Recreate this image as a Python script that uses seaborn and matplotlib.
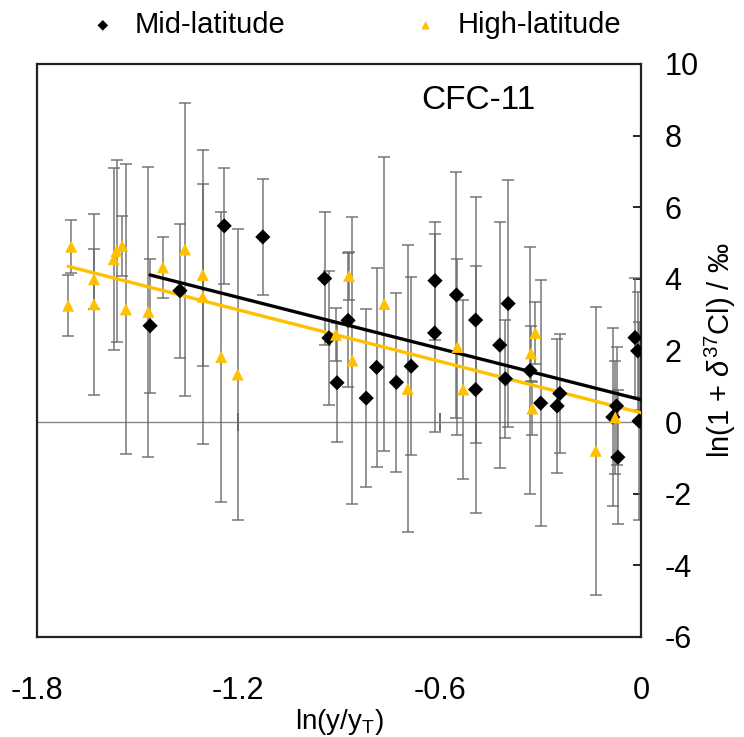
import numpy as np
import seaborn as sns
import matplotlib.pyplot as plt

# mid-latitude samples: x = ln(y/yT), y = ln(1 + d37Cl) in permil, err = 1 sigma
mid_x = [-1.463, -1.374, -1.242, -1.127, -0.943, -0.930, -0.906, -0.873, -0.819, -0.788,
         -0.729, -0.685, -0.614, -0.615, -0.550, -0.493, -0.493, -0.421, -0.404, -0.396,
         -0.331, -0.299, -0.250, -0.242, -0.084, -0.073, -0.069, -0.018, -0.010, -0.006]
mid_y = [2.69, 3.67, 5.48, 5.17, 4.01, 2.35, 1.10, 2.84, 0.67, 1.53,
         1.11, 1.56, 3.95, 2.49, 3.55, 2.85, 0.91, 2.15, 1.21, 3.31,
         1.44, 0.53, 0.45, 0.80, 0.14, 0.45, -0.98, 2.36, 1.99, 0.03]
mid_err = [1.87, 1.87, 1.62, 1.62, 1.87, 1.87, 1.66, 1.87, 2.49, 2.78,
           2.49, 2.49, 1.65, 2.77, 3.44, 3.44, 3.44, 3.44, 1.65, 3.44,
           3.44, 3.44, 1.87, 1.65, 2.48, 1.65, 1.87, 1.65, 1.65, 2.77]

# high-latitude samples
high_x = [-1.698, -1.707, -1.630, -1.630, -1.571, -1.563, -1.546, -1.535, -1.468, -1.425,
          -1.359, -1.306, -1.306, -1.251, -1.202, -0.909, -0.870, -0.860, -0.765, -0.695,
          -0.547, -0.530, -0.328, -0.315, -0.324, -0.135, -0.077]
high_y = [4.90, 3.25, 3.99, 3.29, 4.55, 4.78, 4.92, 3.15, 3.08, 4.32,
          4.82, 4.11, 3.50, 1.82, 1.33, 2.44, 4.08, 1.72, 3.30, 0.93,
          2.10, 0.91, 1.92, 2.49, 0.38, -0.80, 0.13]
high_err = [0.74, 0.85, 0.84, 2.52, 2.54, 2.54, 0.84, 4.05, 4.05, 0.85,
            4.09, 2.53, 4.11, 4.05, 4.05, 0.74, 0.67, 4.02, 4.11, 4.01,
            2.46, 2.49, 0.77, 0.87, 0.75, 4.02, 1.59]

x_ticks = [-1.8, -1.2, -0.6, 0]
x_ticklabels = ["-1.8", "-1.2", "-0.6", "0"]
y_ticks = [-6, -4, -2, 0, 2, 4, 6, 8, 10]

mid_color = "black"
high_color = "#FFC000"

sns.set_theme(style="white")
plt.rcParams["font.family"] = ["Liberation Sans", "DejaVu Sans"]
plt.rcParams["mathtext.fontset"] = "custom"
plt.rcParams["mathtext.rm"] = "Liberation Sans"
plt.rcParams["mathtext.it"] = "Liberation Sans:italic"
plt.rcParams["axes.unicode_minus"] = False
for key in ["text.color", "axes.labelcolor", "xtick.color", "ytick.color"]:
    plt.rcParams[key] = "black"

fig = plt.figure(figsize=(7.44, 7.37), dpi=100)
ax = fig.add_axes([0.0497, 0.1357, 0.8119, 0.7775])

# error bars behind everything
for xs, ys, es in [(mid_x, mid_y, mid_err), (high_x, high_y, high_err)]:
    ax.errorbar(xs, ys, yerr=es, fmt="none", ecolor="#666666", elinewidth=1.3,
                capsize=4, capthick=1.3, alpha=0.75, zorder=1)

# trend lines, both run up to x = 0 like the spreadsheet trendlines
ax.set_xlim(min(mid_x), 0)
sns.regplot(x=mid_x, y=mid_y, scatter=False, ci=None, truncate=False, color=mid_color,
            line_kws=dict(lw=2.4, zorder=3), ax=ax)
ax.set_xlim(min(high_x), 0)
sns.regplot(x=high_x, y=high_y, scatter=False, ci=None, truncate=False, color=high_color,
            line_kws=dict(lw=2.4, zorder=3), ax=ax)

sns.scatterplot(x=mid_x, y=mid_y, marker="D", color=mid_color, s=60, edgecolor="none",
                ax=ax, zorder=4, label="Mid-latitude")
sns.scatterplot(x=high_x, y=high_y, marker="^", color=high_color, s=75, edgecolor="none",
                ax=ax, zorder=4, label="High-latitude")

ax.set_xlim(-1.8, 0)
ax.set_ylim(-6, 10)

# y axis on the right, ticks inside
ax.yaxis.tick_right()
ax.yaxis.set_label_position("right")
ax.set_yticks(y_ticks)
ax.tick_params(axis="y", which="both", direction="in", length=6, width=1.2,
               right=True, left=False, pad=17, labelsize=22, color="black")
ax.set_ylabel(r"ln(1 + $\delta^{37}$Cl) / ‰", fontsize=21, labelpad=3)

# x tick labels sit below the frame, the axis line itself is at y = 0
ax.set_xticks(x_ticks)
ax.set_xticklabels(x_ticklabels)
ax.tick_params(axis="x", length=0, pad=28, labelsize=22)
ax.set_xlabel(r"ln(y/y$_\mathregular{T}$)", fontsize=20, labelpad=1)

zero_axis = ax.secondary_xaxis(0.375)
zero_axis.set_xticks(x_ticks)
zero_axis.tick_params(axis="x", direction="inout", length=13, width=1.2,
                      color="#555555", labelbottom=False, labeltop=False)
zero_axis.spines["bottom"].set_color("#888888")
zero_axis.spines["bottom"].set_linewidth(1.0)
for s in ["top", "left", "right"]:
    if s in zero_axis.spines:
        zero_axis.spines[s].set_visible(False)

for s in ax.spines.values():
    s.set_visible(True)
    s.set_color("#222222")
    s.set_linewidth(1.6)

ax.text(0.73, 0.937, "CFC-11", transform=ax.transAxes, ha="center", va="center",
        fontsize=24)

ax.legend(loc="center", bbox_to_anchor=(0.514, 1.068), ncol=2, frameon=False,
          fontsize=21, markerscale=0.7, handletextpad=0.1, columnspacing=3.8,
          borderaxespad=0)

fig.savefig("out.png", dpi=100)
